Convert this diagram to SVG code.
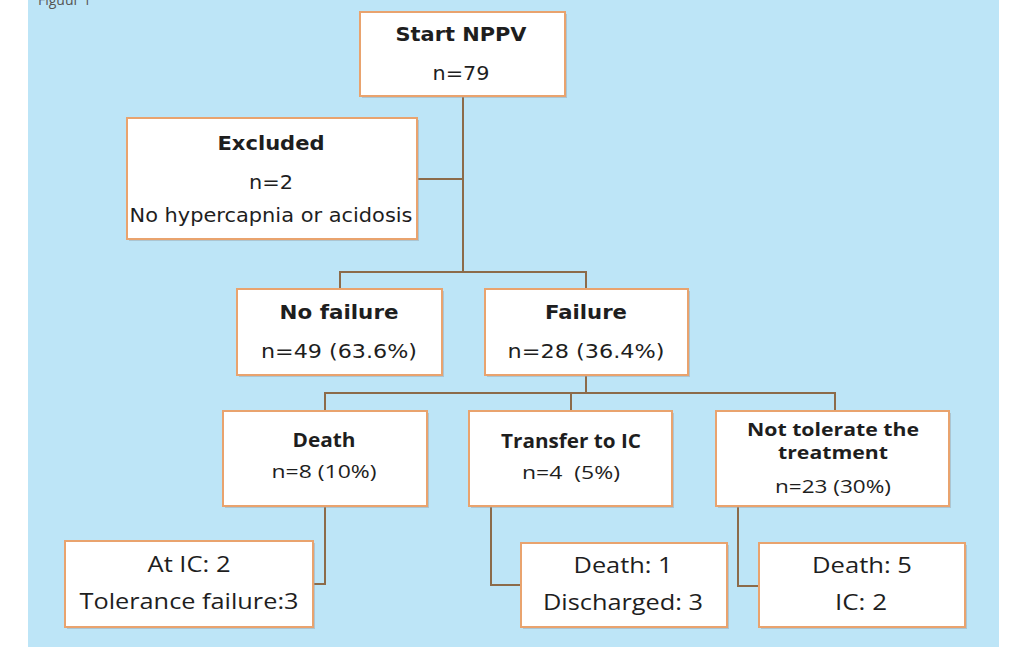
<svg xmlns="http://www.w3.org/2000/svg" width="1009" height="647" viewBox="0 0 1009 647">
<style>
.box{fill:#ffffff;stroke:#e9a36e;stroke-width:2}
.sh{fill:#9aa6ad;opacity:0.5}
.c{fill:none;stroke:#8c6b4a;stroke-width:2}
text{font-family:"DejaVu Sans","Open Sans",sans-serif;fill:#1e1e1e;text-anchor:middle}
.b{font-weight:bold;font-size:19px}
.r{font-size:19px}
.cb{font-family:"Open Sans","DejaVu Sans",sans-serif;font-weight:bold;font-size:19px}
.cr{font-family:"Open Sans","DejaVu Sans",sans-serif;font-size:19px}
</style>
<rect x="0" y="0" width="1009" height="647" fill="#ffffff"/>
<rect x="28" y="0" width="971" height="647" fill="#bde5f7"/>
<text x="38" y="5" style="text-anchor:start;font-family:'Open Sans',sans-serif;font-size:14px;fill:#555">Figuur 1</text>
<g id="connectors">
<path class="c" d="M463 97 V272 M417 179 H463 M340 289 V272 H586 V289 M586 375 V393 M325 411 V393 H835 V411 M571 393 V411 M325 506 V584 H313 M491 506 V585 H521 M738 506 V586 H759"/>
</g>
<g id="start">
<rect class="sh" x="362" y="14" width="205" height="84"/>
<rect class="box" x="360" y="12" width="205" height="84"/>
<text class="b" x="461" y="41" textLength="131" lengthAdjust="spacingAndGlyphs">Start NPPV</text>
<text class="r" x="461" y="80" textLength="57" lengthAdjust="spacingAndGlyphs">n=79</text>
</g>
<g id="excluded">
<rect class="sh" x="129" y="120" width="290" height="121"/>
<rect class="box" x="127" y="118" width="290" height="121"/>
<text class="b" x="271" y="150" textLength="107" lengthAdjust="spacingAndGlyphs">Excluded</text>
<text class="r" x="271" y="189" textLength="44" lengthAdjust="spacingAndGlyphs">n=2</text>
<text class="r" x="271" y="222" textLength="283" lengthAdjust="spacingAndGlyphs">No hypercapnia or acidosis</text>
</g>
<g id="nofailure">
<rect class="sh" x="239" y="291" width="205" height="86"/>
<rect class="box" x="237" y="289" width="205" height="86"/>
<text class="b" x="339" y="319" textLength="119" lengthAdjust="spacingAndGlyphs">No failure</text>
<text class="r" x="339" y="358" textLength="156" lengthAdjust="spacingAndGlyphs">n=49 (63.6%)</text>
</g>
<g id="failure">
<rect class="sh" x="487" y="291" width="203" height="86"/>
<rect class="box" x="485" y="289" width="203" height="86"/>
<text class="b" x="586" y="319" textLength="82" lengthAdjust="spacingAndGlyphs">Failure</text>
<text class="r" x="586" y="358" textLength="157" lengthAdjust="spacingAndGlyphs">n=28 (36.4%)</text>
</g>
<g id="death">
<rect class="sh" x="225" y="413" width="204" height="95"/>
<rect class="box" x="223" y="411" width="204" height="95"/>
<text class="cb" x="324" y="447" textLength="63" lengthAdjust="spacingAndGlyphs">Death</text>
<text class="cr" x="324" y="478" textLength="105" lengthAdjust="spacingAndGlyphs">n=8 (10%)</text>
</g>
<g id="transfer">
<rect class="sh" x="471" y="413" width="203" height="95"/>
<rect class="box" x="469" y="411" width="203" height="95"/>
<text class="cb" x="571" y="448" textLength="140" lengthAdjust="spacingAndGlyphs">Transfer to IC</text>
<text class="cr" x="571" y="479" textLength="98" lengthAdjust="spacingAndGlyphs" xml:space="preserve">n=4  (5%)</text>
</g>
<g id="nottolerate">
<rect class="sh" x="718" y="413" width="233" height="95"/>
<rect class="box" x="716" y="411" width="233" height="95"/>
<text class="cb" x="833" y="436" style="font-size:17px" textLength="172" lengthAdjust="spacingAndGlyphs">Not tolerate the</text>
<text class="cb" x="833" y="459" style="font-size:17px" textLength="110" lengthAdjust="spacingAndGlyphs">treatment</text>
<text class="cr" x="833" y="493" textLength="116" lengthAdjust="spacingAndGlyphs">n=23 (30%)</text>
</g>
<g id="deathsub">
<rect class="sh" x="67" y="543" width="248" height="86"/>
<rect class="box" x="65" y="541" width="248" height="86"/>
<text class="cr" x="189" y="572" style="font-size:21px" textLength="83" lengthAdjust="spacingAndGlyphs">At IC: 2</text>
<text class="cr" x="189" y="609" style="font-size:21px" textLength="219" lengthAdjust="spacingAndGlyphs">Tolerance failure:3</text>
</g>
<g id="transfersub">
<rect class="sh" x="523" y="545" width="206" height="84"/>
<rect class="box" x="521" y="543" width="206" height="84"/>
<text class="cr" x="623" y="573" style="font-size:21px" textLength="99" lengthAdjust="spacingAndGlyphs">Death: 1</text>
<text class="cr" x="623" y="610" style="font-size:21px" textLength="160" lengthAdjust="spacingAndGlyphs">Discharged: 3</text>
</g>
<g id="nottoleratesub">
<rect class="sh" x="761" y="545" width="206" height="84"/>
<rect class="box" x="759" y="543" width="206" height="84"/>
<text class="cr" x="862" y="573" style="font-size:21px" textLength="100" lengthAdjust="spacingAndGlyphs">Death: 5</text>
<text class="cr" x="861" y="610" style="font-size:21px" textLength="52" lengthAdjust="spacingAndGlyphs">IC: 2</text>
</g>
</svg>
